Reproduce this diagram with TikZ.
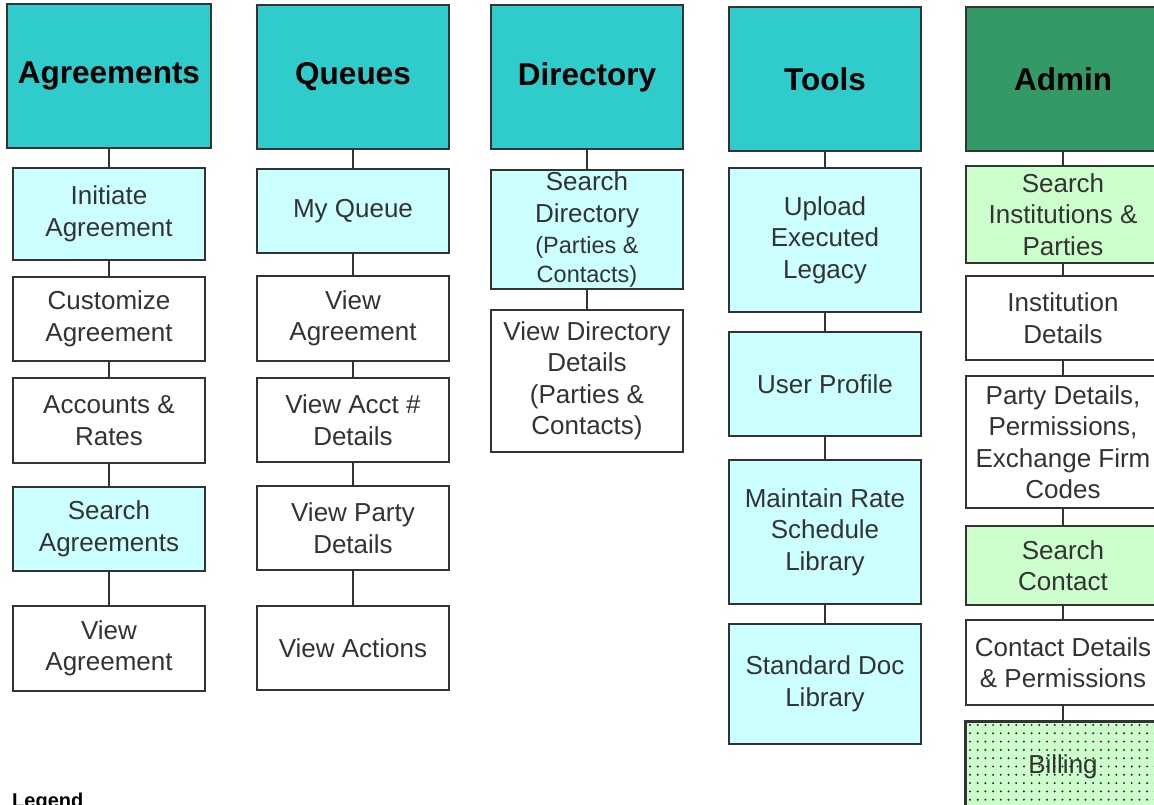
\documentclass[tikz,border=0pt]{standalone}
\usepackage{fontspec}
\setmainfont{Liberation Sans}
\definecolor{hdr}{HTML}{30CCCC}
\definecolor{lcyan}{HTML}{CCFFFF}
\definecolor{dgreen}{HTML}{339966}
\definecolor{lgreen}{HTML}{CCFFCC}
\definecolor{edge}{HTML}{333333}
\definecolor{txt}{HTML}{333333}
\newcommand\bx[7]{\node[#6,minimum width={#4pt-#2pt},minimum height={#5pt-#3pt}] (#1) at ({(#2+#4)/2},{(#3+#5)/2}) {#7};}
\tikzset{
  base/.style={draw=edge,line width=1.6pt,inner sep=0pt,align=center,text=txt,font=\fontsize{26}{31.5}\selectfont},
  head/.style={base,fill=hdr,text=black,font=\fontsize{31.5}{36}\selectfont\bfseries},
  headg/.style={head,fill=dgreen},
  cyanbox/.style={base,fill=lcyan},
  whitebox/.style={base,fill=white},
  greenbox/.style={base,fill=lgreen},
  link/.style={draw=edge,line width=1.6pt}
}
\begin{document}
\begin{tikzpicture}[x=1pt,y=-1pt]
\useasboundingbox (0,0) rectangle (1154,805);
\clip (0,0) rectangle (1154,805);
\fill[white] (0,0) rectangle (1154,805);
% Agreements
\bx{a0}{7}{4}{211}{148}{head}{Agreements}
\bx{a1}{13}{168}{205}{260}{cyanbox}{Initiate\\Agreement}
\bx{a2}{13}{277}{205}{361}{whitebox}{Customize\\Agreement}
\bx{a3}{13}{378}{205}{463}{whitebox}{Accounts \&\\Rates}
\bx{a4}{13}{487}{205}{571}{cyanbox}{Search\\Agreements}
\bx{a5}{13}{606}{205}{691}{whitebox}{View\\Agreement}
% Queues
\bx{q0}{257}{5}{449}{149}{head}{Queues}
\bx{q1}{257}{169}{449}{253}{cyanbox}{My Queue}
\bx{q2}{257}{276}{449}{361}{whitebox}{View\\Agreement}
\bx{q3}{257}{378}{449}{462}{whitebox}{View Acct \#\\Details}
\bx{q4}{257}{486}{449}{570}{whitebox}{View Party\\Details}
\bx{q5}{257}{606}{449}{690}{whitebox}{View Actions}
% Directory
\bx{d0}{491}{5}{683}{149}{head}{Directory}
\bx{d1}{491}{170}{683}{289}{cyanbox}{Search\\Directory\\{\fontsize{23.5}{28}\selectfont (Parties \&}\\[-3pt]{\fontsize{23.5}{28}\selectfont Contacts)}}
\bx{d2}{491}{310}{683}{452}{whitebox}{View Directory\\Details\\(Parties \&\\Contacts)}
% Tools
\bx{t0}{729}{7}{921}{151}{head}{Tools}
\bx{t1}{729}{168}{921}{312}{cyanbox}{Upload\\Executed\\Legacy}
\bx{t2}{729}{332}{921}{436}{cyanbox}{User Profile}
\bx{t3}{729}{460}{921}{604}{cyanbox}{Maintain Rate\\Schedule\\Library}
\bx{t4}{729}{624}{921}{744}{cyanbox}{Standard Doc\\Library}
% Admin
\bx{m0}{966}{7}{1160}{151}{headg}{Admin}
\bx{m1}{966}{166}{1160}{263}{greenbox}{Search\\Institutions \&\\Parties}
\bx{m2}{966}{276}{1160}{360}{whitebox}{Institution\\Details}
\bx{m3}{966}{376}{1160}{508}{whitebox}{Party Details,\\Permissions,\\Exchange Firm\\Codes}
\bx{m4}{966}{526}{1160}{605}{greenbox}{Search\\Contact}
\bx{m5}{966}{620}{1160}{705}{whitebox}{Contact Details\\\& Permissions}
\bx{m6}{966}{722}{1160}{812}{greenbox}{}
\begin{scope}
\clip (m6.south west) rectangle (m6.north east);
\foreach \i in {0,...,26}{\foreach \j in {0,...,11}{
  \fill[black!85] ({970+7.7*\i},{725+8.3*\j}) circle (1.1pt);}}
\end{scope}
\draw[draw=edge,line width=1.6pt] (m6.south west) rectangle (m6.north east);
\node[text=txt,font=\fontsize{26}{31.5}\selectfont,inner sep=0pt] (bill) at (m6.center) {Billing};
% connectors
\foreach \p/\c in {a0/a1,a1/a2,a2/a3,a3/a4,a4/a5,q0/q1,q1/q2,q2/q3,q3/q4,q4/q5,d0/d1,d1/d2,t0/t1,t1/t2,t2/t3,t3/t4,m0/m1,m1/m2,m2/m3,m3/m4,m4/m5,m5/m6}
  \draw[link] (\p.south) -- (\c.north);
% legend
\node[anchor=base west,inner sep=0pt,font=\fontsize{20}{24}\selectfont\bfseries] (legend) at (12,807) {Legend};
\end{tikzpicture}
\end{document}
